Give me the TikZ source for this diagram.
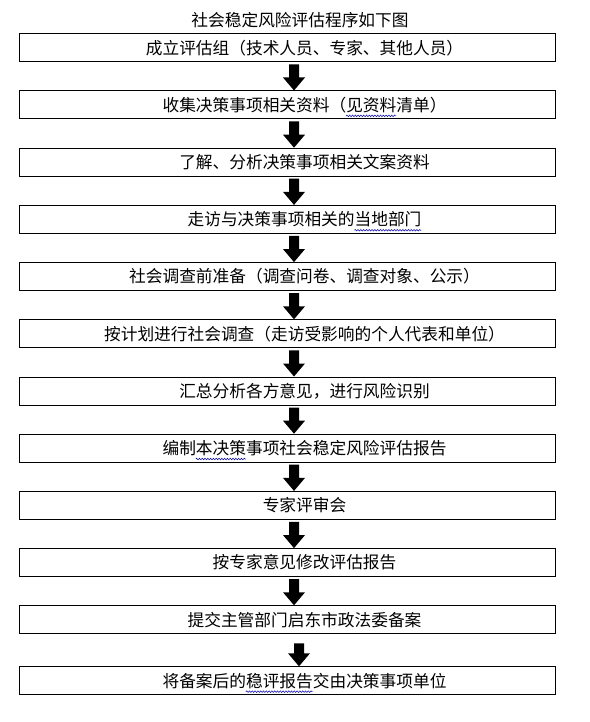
\documentclass[tikz,border=0pt]{standalone}
\usepackage{fontspec}
\newfontfamily\cjk{Noto Sans CJK SC}
\usetikzlibrary{calc,decorations.pathmorphing}
\newcommand\blkarrow[4]{%
  \fill let \p1=(#1.south), \p2=(#2.north) in
   (#3-5pt,\y1-#4) -- (#3+5pt,\y1-#4) -- (#3+5pt,\y2+13pt) -- (#3+11pt,\y2+13pt)
   -- (#3,\y2) -- (#3-11pt,\y2+13pt) -- (#3-5pt,\y2+13pt) -- cycle;}
\newcommand\wavyul[3]{%
  \draw[wavy] ($(#1.base west)+(#2*16.7,-4.5)$) -- ($(#1.base west)+(#3*16.7,-4.5)$);}
\begin{document}
\begin{tikzpicture}[x=1pt,y=1pt,
  stepbox/.style={draw=black,line width=1pt,minimum width=536pt,minimum height=28pt,inner sep=0pt,anchor=north west},
  steptext/.style={font=\cjk\fontsize{16.7}{20}\selectfont,inner sep=0pt,anchor=center},
  wavy/.style={draw=blue!80!black,line width=0.5pt,decorate,decoration={snake,amplitude=0.8pt,segment length=2.8pt}}]
\useasboundingbox (0,0) rectangle (589,-722);
\node[steptext] (title) at (300,-20) {社会稳定风险评估程序如下图};
\foreach \i/\tp/\txt in {
 1/33.3/成立评估组（技术人员、专家、其他人员）,
 2/90.5/收集决策事项相关资料（见资料清单）,
 3/147.7/了解、分析决策事项相关文案资料,
 4/204.9/走访与决策事项相关的当地部门,
 5/262.1/社会调查前准备（调查问卷、调查对象、公示）,
 6/319.3/按计划进行社会调查（走访受影响的个人代表和单位）,
 7/376.5/汇总分析各方意见，进行风险识别,
 8/433.7/编制本决策事项社会稳定风险评估报告,
 9/490.9/专家评审会,
 10/548.1/按专家意见修改评估报告,
 11/605.3/提交主管部门启东市政法委备案,
 12/666.3/将备案后的稳评报告交由决策事项单位}{
  \node[stepbox] (b\i) at (19,-\tp) {};
  \node[steptext] (t\i) at ($(b\i.center)+(17,0)$) {\txt};
}
\foreach \i in {1,...,10}{
  \pgfmathtruncatemacro\j{\i+1}
  \blkarrow{b\i}{b\j}{294pt}{2pt}
}
\blkarrow{b11}{b12}{299pt}{9pt}
\wavyul{t2}{11}{14}
\wavyul{t4}{10}{14}
\wavyul{t8}{2}{5}
\wavyul{t12}{5}{9}
\end{tikzpicture}
\end{document}
